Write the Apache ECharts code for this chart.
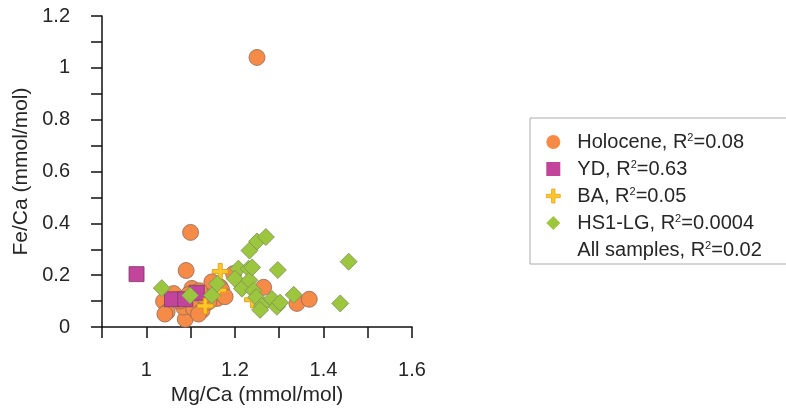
<!DOCTYPE html>
<html>
<head>
<meta charset="utf-8">
<script src="https://cdn.jsdelivr.net/npm/echarts@6/dist/echarts.min.js"></script>
<style>
html,body{margin:0;padding:0;background:#fff;}
#chart{width:786px;height:411px;}
</style>
</head>
<body>
<div id="chart"></div>
<script>
// ---- Data (Mg/Ca, Fe/Ca in mmol/mol) ----
var seriesNames = ['Holocene', 'YD', 'BA', 'HS1-LG', 'All samples'];
var rSquared = ['0.08', '0.63', '0.05', '0.0004', '0.02'];

var holoceneMg = [1.25, 1.10, 1.09, 1.197, 1.265, 1.34, 1.368, 1.062, 1.039, 1.047, 1.042, 1.088, 1.084, 1.107, 1.126, 1.118, 1.148, 1.167, 1.16, 1.141, 1.103, 1.17, 1.178, 1.075, 1.095, 1.13, 1.12];
var holoceneFe = [1.04, 0.365, 0.218, 0.206, 0.153, 0.091, 0.107, 0.129, 0.099, 0.058, 0.05, 0.03, 0.077, 0.071, 0.064, 0.05, 0.174, 0.154, 0.11, 0.097, 0.149, 0.143, 0.117, 0.10, 0.125, 0.12, 0.14];

var ydMg = [0.978, 1.058, 1.088, 1.114];
var ydFe = [0.204, 0.107, 0.107, 0.132];

var baMg = [1.167, 1.163, 1.133, 1.24];
var baFe = [0.214, 0.142, 0.081, 0.105];

var hsMg = [1.035, 1.099, 1.16, 1.148, 1.208, 1.2, 1.231, 1.216, 1.233, 1.25, 1.27, 1.233, 1.242, 1.248, 1.261, 1.257, 1.284, 1.295, 1.302, 1.297, 1.333, 1.438, 1.457, 1.239];
var hsFe = [0.15, 0.122, 0.167, 0.122, 0.225, 0.186, 0.225, 0.148, 0.295, 0.33, 0.347, 0.18, 0.14, 0.115, 0.082, 0.066, 0.108, 0.078, 0.094, 0.22, 0.124, 0.091, 0.252, 0.23];

var xTickLabels = ['1', '1.2', '1.4', '1.6'];
var yTickLabels = ['0', '0.2', '0.4', '0.6', '0.8', '1', '1.2'];

function pairs(xs, ys) {
  return xs.map(function (x, i) { return [x, ys[i]]; });
}

var plusPath = 'path://M6,0H10V6H16V10H10V16H6V10H0V6H6Z';

var chart = echarts.init(document.getElementById('chart'), null, {renderer: 'canvas'});

var legendMap = {};
seriesNames.forEach(function (n, i) {
  legendMap[n] = '{g|}' + n + ', R{sup|2}=' + rSquared[i];
});

var fontFam = 'Liberation Sans, Arial, sans-serif';
var txtColor = '#262626';

var option = {
  backgroundColor: '#ffffff',
  animation: false,
  grid: {left: 102, right: 374, top: 16, bottom: 84, containLabel: false},
  xAxis: {
    type: 'value',
    min: 0.9, max: 1.6, interval: 0.1,
    name: 'Mg/Ca (mmol/mol)',
    nameLocation: 'middle',
    nameGap: 58,
    nameTextStyle: {fontSize: 21, color: txtColor, fontFamily: fontFam},
    axisLine: {show: true, onZero: false, lineStyle: {color: '#111', width: 1.5}},
    axisTick: {show: true, length: 11, lineStyle: {color: '#111', width: 1.5}},
    splitLine: {show: false},
    axisLabel: {
      margin: 33, fontSize: 20, color: txtColor, fontFamily: fontFam,
      formatter: function (v) {
        var k = Math.round(v * 10);
        if (k % 2 === 0 && k >= 10) {
          var s = String(k / 10);
          return xTickLabels.indexOf(s) >= 0 ? s : '';
        }
        return '';
      }
    }
  },
  yAxis: {
    type: 'value',
    min: 0, max: 1.2, interval: 0.1,
    name: 'Fe/Ca (mmol/mol)',
    nameLocation: 'middle',
    nameGap: 70,
    nameTextStyle: {fontSize: 21, color: txtColor, fontFamily: fontFam},
    axisLine: {show: true, onZero: false, lineStyle: {color: '#111', width: 1.5}},
    axisTick: {show: true, length: 11, lineStyle: {color: '#111', width: 1.5}},
    splitLine: {show: false},
    axisLabel: {
      margin: 32, fontSize: 20, color: txtColor, fontFamily: fontFam,
      formatter: function (v) {
        var k = Math.round(v * 10);
        if (k % 2 === 0) {
          var s = String(k / 10);
          return yTickLabels.indexOf(s) >= 0 ? s : '';
        }
        return '';
      }
    }
  },
  legend: {
    orient: 'vertical',
    left: 530, top: 118,
    padding: [14, 40, 4, 16],
    borderColor: '#aaaaaa', borderWidth: 1,
    itemWidth: 14, itemHeight: 14, itemGap: 7,
    data: [
      {name: 'Holocene', icon: 'circle', itemStyle: {borderWidth: 0}},
      {name: 'YD', icon: 'rect', itemStyle: {borderWidth: 0}},
      {name: 'BA', icon: plusPath, itemStyle: {borderWidth: 0.6}},
      {name: 'HS1-LG', icon: 'diamond', itemStyle: {borderWidth: 0}},
      {name: 'All samples', icon: 'rect', itemStyle: {opacity: 0}}
    ],
    formatter: function (n) { return legendMap[n]; },
    textStyle: {
      fontSize: 20, color: txtColor, fontFamily: fontFam, lineHeight: 20,
      rich: {
        g: {width: 12},
        sup: {fontSize: 11, color: txtColor, fontFamily: fontFam, verticalAlign: 'top', lineHeight: 11}
      }
    }
  },
  series: [
    {
      name: 'Holocene', type: 'scatter', symbol: 'circle', symbolSize: 16,
      itemStyle: {color: '#F68B47', borderColor: '#8a6a5c', borderWidth: 0.8, opacity: 1},
      data: pairs(holoceneMg, holoceneFe)
    },
    {
      name: 'YD', type: 'scatter', symbol: 'rect', symbolSize: 15,
      itemStyle: {color: '#C2449B', borderColor: '#7a3a6a', borderWidth: 0.8, opacity: 1},
      data: pairs(ydMg, ydFe)
    },
    {
      name: 'BA', type: 'scatter', symbol: plusPath, symbolSize: 16,
      itemStyle: {color: '#FFC72C', borderColor: '#d9960a', borderWidth: 0.8, opacity: 1},
      data: pairs(baMg, baFe)
    },
    {
      name: 'HS1-LG', type: 'scatter', symbol: 'diamond', symbolSize: 17,
      itemStyle: {color: '#9DC63F', borderColor: '#7d8c5e', borderWidth: 0.8, opacity: 1},
      data: pairs(hsMg, hsFe)
    },
    {
      name: 'All samples', type: 'scatter', symbolSize: 0,
      itemStyle: {color: 'rgba(0,0,0,0)'},
      data: []
    }
  ]
};
chart.setOption(option);
</script>
</body>
</html>
